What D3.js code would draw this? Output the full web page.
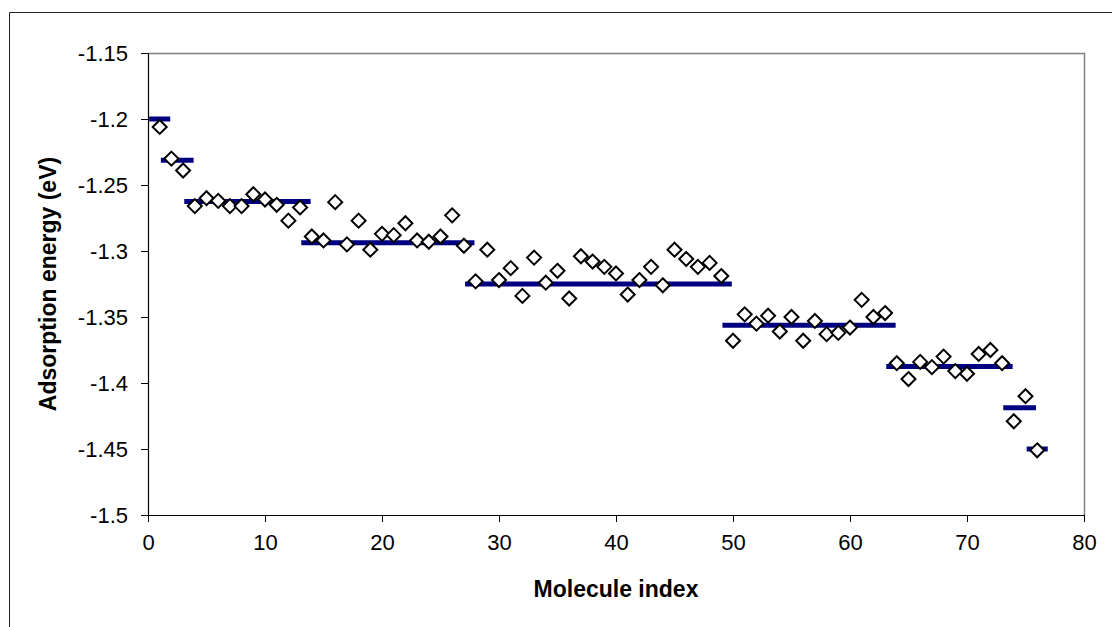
<!DOCTYPE html>
<html>
<head>
<meta charset="utf-8">
<script src="https://cdn.jsdelivr.net/npm/d3@7"></script>
<style>
  html, body { margin: 0; padding: 0; background: #fff; }
  svg { display: block; font-family: "Liberation Sans", Arial, sans-serif; }
</style>
</head>
<body>
<svg id="chart" width="1112" height="627"></svg>
<script>
// ---- data ----
const moleculeIndex = d3.range(1, 77);
const adsorptionEnergy = [
  -1.206, -1.230, -1.239, -1.266, -1.260, -1.262, -1.266, -1.266, -1.257, -1.261,
  -1.265, -1.277, -1.267, -1.289, -1.292, -1.263, -1.295, -1.277, -1.299, -1.287,
  -1.288, -1.279, -1.292, -1.293, -1.289, -1.273, -1.296, -1.323, -1.299, -1.322,
  -1.313, -1.334, -1.305, -1.324, -1.315, -1.336, -1.304, -1.308, -1.312, -1.317,
  -1.333, -1.322, -1.312, -1.326, -1.299, -1.306, -1.312, -1.309, -1.319, -1.368,
  -1.348, -1.355, -1.349, -1.361, -1.350, -1.368, -1.353, -1.363, -1.362, -1.358,
  -1.337, -1.350, -1.347, -1.385, -1.397, -1.384, -1.388, -1.380, -1.391, -1.393,
  -1.378, -1.375, -1.385, -1.429, -1.410, -1.451
];
const levelValues = [-1.2, -1.23125, -1.2625, -1.29375, -1.325, -1.35625, -1.3875, -1.41875, -1.45];
const levelStart  = [1, 2, 4, 14, 28, 50, 64, 74, 76];
const levelEnd    = [1, 3, 13, 27, 49, 63, 73, 75, 76];
const xTicks = [0, 10, 20, 30, 40, 50, 60, 70, 80];
const yTicks = [-1.15, -1.2, -1.25, -1.3, -1.35, -1.4, -1.45, -1.5];
const xTitle = "Molecule index";
const yTitle = "Adsorption energy (eV)";

// ---- layout ----
const svg = d3.select("#chart");
const plot = { left: 148, right: 1084, top: 53, bottom: 515 };

const x = d3.scaleLinear().domain([0, 80]).range([plot.left, plot.right]);
const y = d3.scaleLinear().domain([-1.5, -1.15]).range([plot.bottom, plot.top]);

// outer chart border
svg.append("path")
  .attr("d", `M9.5,${640} V12.5 H${1120}`)
  .attr("fill", "none").attr("stroke", "#222").attr("stroke-width", 1);

// plot frame (top & right grey)
svg.append("path")
  .attr("d", `M${plot.left},${plot.top + 0.5} H${plot.right + 0.5} V${plot.bottom}`)
  .attr("fill", "none").attr("stroke", "#808080").attr("stroke-width", 1.5);

// axes
const xAxis = d3.axisBottom(x).tickValues(xTicks).tickFormat(d3.format("d")).tickSize(7).tickSizeOuter(0).tickPadding(12);
const yAxis = d3.axisLeft(y).tickValues(yTicks).tickFormat(d => String(d)).tickSize(7).tickSizeOuter(0).tickPadding(13);

const gx = svg.append("g").attr("transform", `translate(0,${plot.bottom})`).call(xAxis);
const gy = svg.append("g").attr("transform", `translate(${plot.left},0)`).call(yAxis);

[gx, gy].forEach(g => {
  g.select(".domain").attr("stroke", "#000").attr("stroke-width", 1.2);
  g.selectAll(".tick line").attr("stroke", "#000").attr("stroke-width", 1);
  g.selectAll(".tick text").attr("fill", "#000").style("font-size", "22px")
    .style("font-family", "'Liberation Sans', Arial, sans-serif");
});
gx.selectAll(".tick text").attr("dy", "0.71em");
gy.selectAll(".tick text").attr("dy", "0.36em");

// level lines
const segs = levelValues.map((v, i) => ({ v, s: levelStart[i], e: levelEnd[i] }));
svg.append("g").selectAll("line").data(segs).join("line")
  .attr("x1", d => x(Math.max(0, d.s - 0.9)))
  .attr("x2", d => x(d.e + 0.9))
  .attr("y1", d => y(d.v)).attr("y2", d => y(d.v))
  .attr("stroke", "#000080").attr("stroke-width", 5);

// diamonds
const pts = moleculeIndex.map((m, i) => ({ m, v: adsorptionEnergy[i] }));
const r = 7;
svg.append("g").selectAll("path").data(pts).join("path")
  .attr("d", d => {
    const cx = x(d.m), cy = y(d.v);
    return `M${cx},${cy - r} L${cx + r},${cy} L${cx},${cy + r} L${cx - r},${cy} Z`;
  })
  .attr("fill", "#fff").attr("stroke", "#000").attr("stroke-width", 2);

// titles
svg.append("text")
  .attr("x", (plot.left + plot.right) / 2).attr("y", 597)
  .attr("text-anchor", "middle")
  .style("font-size", "23px").style("font-weight", "bold")
  .text(xTitle);

svg.append("text")
  .attr("transform", `translate(56,${(plot.top + plot.bottom) / 2}) rotate(-90)`)
  .attr("text-anchor", "middle")
  .style("font-size", "23px").style("font-weight", "bold")
  .text(yTitle);
</script>
</body>
</html>
